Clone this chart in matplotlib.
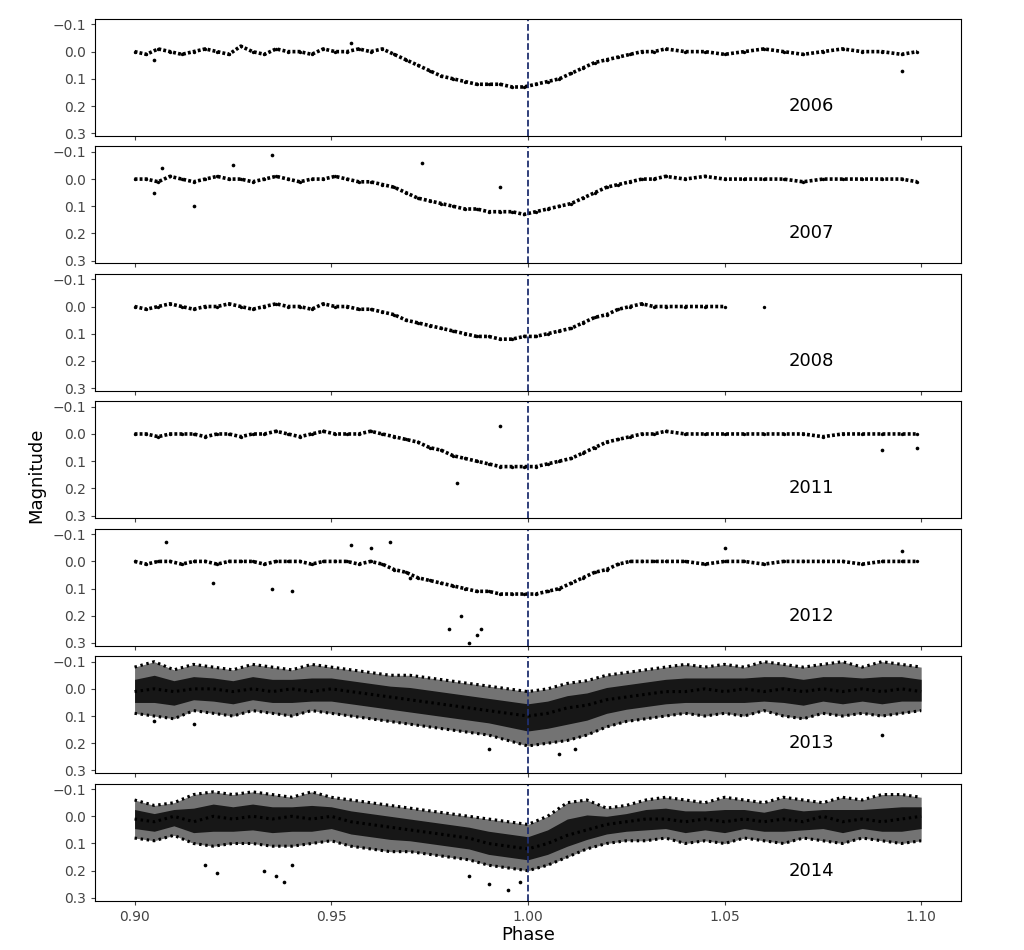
import numpy as np
import matplotlib

matplotlib.use("Agg")
import matplotlib.pyplot as plt

YEARS = ["2006", "2007", "2008", "2011", "2012", "2013", "2014"]

# sparse years: phase / magnitude
P_BASE = [0.900, 0.903, 0.906, 0.909, 0.912, 0.915, 0.918, 0.921, 0.924, 0.927,
          0.930, 0.933, 0.936, 0.939, 0.942, 0.945, 0.948, 0.951, 0.954, 0.957,
          0.960, 0.963, 0.966, 0.969, 0.972, 0.975, 0.978, 0.981, 0.984, 0.987,
          0.990, 0.993, 0.996, 0.999, 1.002, 1.005, 1.008, 1.011, 1.014, 1.017,
          1.020, 1.023, 1.026, 1.029, 1.032, 1.035, 1.040, 1.045, 1.050, 1.055,
          1.060, 1.065, 1.070, 1.075, 1.080, 1.085, 1.090, 1.095, 1.099]
M06 = [0.00, 0.01, -0.01, 0.00, 0.01, 0.00, -0.01, 0.00, 0.01, -0.02,
       0.00, 0.01, -0.01, 0.00, 0.00, 0.01, -0.01, 0.00, 0.00, -0.01,
       0.00, -0.01, 0.01, 0.03, 0.05, 0.07, 0.09, 0.10, 0.11, 0.12,
       0.12, 0.12, 0.13, 0.13, 0.12, 0.11, 0.10, 0.08, 0.06, 0.04,
       0.03, 0.02, 0.01, 0.00, 0.00, -0.01, 0.00, 0.00, 0.01, 0.00,
       -0.01, 0.00, 0.01, 0.00, -0.01, 0.00, 0.00, 0.01, 0.00]
M07 = [0.00, 0.00, 0.01, -0.01, 0.00, 0.01, 0.00, -0.01, 0.00, 0.00,
       0.01, 0.00, -0.01, 0.00, 0.01, 0.00, 0.00, -0.01, 0.00, 0.01,
       0.01, 0.02, 0.03, 0.05, 0.07, 0.08, 0.09, 0.10, 0.11, 0.11,
       0.12, 0.12, 0.12, 0.13, 0.12, 0.11, 0.10, 0.09, 0.07, 0.05,
       0.03, 0.02, 0.01, 0.00, 0.00, -0.01, 0.00, -0.01, 0.00, 0.00,
       0.00, 0.00, 0.01, 0.00, 0.00, 0.00, 0.00, 0.00, 0.01]
M08 = [0.00, 0.01, 0.00, -0.01, 0.00, 0.01, 0.00, 0.00, -0.01, 0.00,
       0.01, 0.00, -0.01, 0.00, 0.00, 0.01, -0.01, 0.00, 0.00, 0.01,
       0.01, 0.02, 0.03, 0.05, 0.06, 0.07, 0.08, 0.09, 0.10, 0.11,
       0.11, 0.12, 0.12, 0.11, 0.11, 0.10, 0.09, 0.08, 0.06, 0.04,
       0.03, 0.01, 0.00, -0.01, 0.00, 0.00, 0.00, 0.00, 0.00, np.nan,
       0.00, np.nan, np.nan, np.nan, np.nan, np.nan, np.nan, np.nan, np.nan]
M11 = [0.00, 0.00, 0.01, 0.00, 0.00, 0.00, 0.01, 0.00, 0.00, 0.01,
       0.00, 0.00, -0.01, 0.00, 0.01, 0.00, -0.01, 0.00, 0.00, 0.00,
       -0.01, 0.00, 0.01, 0.02, 0.03, 0.05, 0.06, 0.08, 0.09, 0.10,
       0.11, 0.12, 0.12, 0.12, 0.12, 0.11, 0.10, 0.09, 0.07, 0.05,
       0.03, 0.02, 0.01, 0.00, 0.00, -0.01, 0.00, 0.00, 0.00, 0.00,
       0.00, 0.00, 0.00, 0.01, 0.00, 0.00, 0.00, 0.00, 0.00]
M12 = [0.00, 0.01, 0.00, 0.00, 0.01, 0.00, 0.00, 0.01, 0.00, 0.00,
       0.00, 0.01, 0.00, 0.00, 0.00, 0.01, 0.00, 0.00, 0.00, 0.01,
       0.00, 0.01, 0.03, 0.04, 0.06, 0.07, 0.08, 0.09, 0.10, 0.11,
       0.11, 0.12, 0.12, 0.12, 0.12, 0.11, 0.10, 0.08, 0.06, 0.04,
       0.03, 0.01, 0.00, 0.00, 0.00, 0.00, 0.00, 0.01, 0.00, 0.00,
       0.01, 0.00, 0.00, 0.00, 0.00, 0.01, 0.00, 0.00, 0.00]

# outliers per year (phase, magnitude)
OUT_P = {"2006": [0.905, 0.955, 1.095],
         "2007": [0.905, 0.907, 0.915, 0.925, 0.935, 0.973, 0.993],
         "2008": [],
         "2011": [0.982, 0.993, 1.090, 1.099],
         "2012": [0.908, 0.920, 0.935, 0.940, 0.955, 0.960, 0.965, 0.970,
                  0.980, 0.983, 0.985, 0.987, 0.988, 1.050, 1.095],
         "2013": [0.905, 0.915, 0.990, 1.008, 1.012, 1.090],
         "2014": [0.918, 0.921, 0.933, 0.936, 0.938, 0.940, 0.985, 0.990,
                  0.995, 0.998]}
OUT_M = {"2006": [0.03, -0.03, 0.07],
         "2007": [0.05, -0.04, 0.10, -0.05, -0.09, -0.06, 0.03],
         "2008": [],
         "2011": [0.18, -0.03, 0.06, 0.05],
         "2012": [-0.07, 0.08, 0.10, 0.11, -0.06, -0.05, -0.07, 0.06,
                  0.25, 0.20, 0.30, 0.27, 0.25, -0.05, -0.04],
         "2013": [0.12, 0.13, 0.22, 0.24, 0.22, 0.17],
         "2014": [0.18, 0.21, 0.20, 0.22, 0.24, 0.18, 0.22, 0.25, 0.27, 0.24]}

# dense years: centre and upper/lower envelope at shared phases
P_DENSE = [0.900, 0.905, 0.910, 0.915, 0.920, 0.925, 0.930, 0.935, 0.940, 0.945,
           0.950, 0.955, 0.960, 0.965, 0.970, 0.975, 0.980, 0.985, 0.990, 0.995,
           1.000, 1.005, 1.010, 1.015, 1.020, 1.025, 1.030, 1.035, 1.040, 1.045,
           1.050, 1.055, 1.060, 1.065, 1.070, 1.075, 1.080, 1.085, 1.090, 1.095, 1.100]
M13_MID = [0.01, 0.00, 0.01, 0.00, 0.00, 0.01, 0.00, 0.01, 0.00, 0.01,
           0.00, 0.01, 0.02, 0.03, 0.04, 0.05, 0.06, 0.07, 0.08, 0.09,
           0.10, 0.09, 0.07, 0.06, 0.04, 0.03, 0.02, 0.01, 0.01, 0.00,
           0.01, 0.00, 0.01, 0.00, 0.01, 0.00, 0.01, 0.00, 0.01, 0.00, 0.01]
M13_HI = [-0.08, -0.10, -0.07, -0.09, -0.08, -0.07, -0.09, -0.08, -0.07, -0.09,
          -0.08, -0.07, -0.06, -0.05, -0.05, -0.04, -0.03, -0.02, -0.01, 0.00,
          0.01, 0.00, -0.02, -0.03, -0.05, -0.06, -0.07, -0.08, -0.09, -0.08,
          -0.09, -0.08, -0.10, -0.09, -0.08, -0.09, -0.10, -0.08, -0.10, -0.09, -0.08]
M13_LO = [0.09, 0.10, 0.11, 0.08, 0.09, 0.10, 0.08, 0.09, 0.10, 0.08,
          0.09, 0.10, 0.11, 0.12, 0.13, 0.14, 0.15, 0.16, 0.17, 0.19,
          0.21, 0.20, 0.19, 0.17, 0.14, 0.12, 0.11, 0.10, 0.09, 0.10,
          0.09, 0.10, 0.08, 0.10, 0.11, 0.09, 0.10, 0.09, 0.10, 0.09, 0.08]
M14_MID = [0.01, 0.02, 0.00, 0.02, 0.00, 0.01, 0.00, 0.01, 0.00, 0.01,
           0.00, 0.02, 0.03, 0.04, 0.05, 0.06, 0.07, 0.08, 0.10, 0.11,
           0.12, 0.10, 0.07, 0.05, 0.03, 0.02, 0.01, 0.01, 0.02, 0.01,
           0.02, 0.01, 0.02, 0.01, 0.02, 0.00, 0.02, 0.01, 0.02, 0.01, 0.00]
M14_HI = [-0.06, -0.04, -0.05, -0.08, -0.09, -0.08, -0.09, -0.08, -0.07, -0.09,
          -0.07, -0.06, -0.05, -0.04, -0.03, -0.02, -0.01, 0.00, 0.01, 0.02,
          0.03, 0.00, -0.05, -0.06, -0.03, -0.04, -0.06, -0.07, -0.06, -0.05,
          -0.07, -0.06, -0.05, -0.07, -0.06, -0.05, -0.07, -0.06, -0.08, -0.08, -0.07]
M14_LO = [0.08, 0.09, 0.07, 0.10, 0.11, 0.10, 0.10, 0.11, 0.11, 0.10,
          0.09, 0.11, 0.12, 0.13, 0.13, 0.14, 0.15, 0.16, 0.18, 0.19,
          0.20, 0.18, 0.15, 0.12, 0.10, 0.09, 0.09, 0.08, 0.10, 0.09,
          0.10, 0.08, 0.09, 0.10, 0.08, 0.09, 0.10, 0.08, 0.09, 0.10, 0.09]

SPARSE = {"2006": M06, "2007": M07, "2008": M08, "2011": M11, "2012": M12}
DENSE = {"2013": (M13_HI, M13_MID, M13_LO), "2014": (M14_HI, M14_MID, M14_LO)}

fig, axes = plt.subplots(len(YEARS), 1, figsize=(10.24, 9.5), sharex=True)
fig.subplots_adjust(left=0.093, right=0.938, top=0.98, bottom=0.052, hspace=0.09)

for ax, yr in zip(axes, YEARS):
    if yr in SPARSE:
        # dense run of points drawn as a dotted trace
        ax.plot(P_BASE, SPARSE[yr], ls=(0, (0.8, 0.6)), lw=2.6, color="black")
        ax.scatter(P_BASE, SPARSE[yr], s=6, color="black", lw=0)
    else:
        hi, mid, lo = DENSE[yr]
        ax.fill_between(P_DENSE, hi, lo, color="black", alpha=0.55, lw=0)
        ax.fill_between(P_DENSE, np.add(hi, mid) / 2, np.add(lo, mid) / 2,
                        color="black", alpha=0.8, lw=0)
        for m in DENSE[yr]:
            ax.plot(P_DENSE, m, ls=(0, (0.8, 1.2)), lw=2.2, color="black")
    ax.scatter(OUT_P[yr], OUT_M[yr], s=7, color="black", lw=0)
    ax.axvline(1.0, color="#1f2f6f", ls="--", lw=1.3)
    ax.set_xlim(0.89, 1.11)
    ax.set_ylim(0.31, -0.12)
    ax.set_yticks([-0.1, 0.0, 0.1, 0.2, 0.3])
    ax.set_yticklabels(["\u22120.1", "0.0", "0.1", "0.2", "0.3"])
    ax.tick_params(labelsize=10, colors="#444444", length=3)
    ax.text(1.072, 0.2, yr, fontsize=13, ha="center", va="center")

axes[-1].set_xticks([0.90, 0.95, 1.00, 1.05, 1.10])
axes[-1].set_xticklabels(["0.90", "0.95", "1.00", "1.05", "1.10"])
axes[-1].set_xlabel("Phase", fontsize=13, labelpad=2)
fig.text(0.035, 0.5, "Magnitude", rotation=90, fontsize=13, va="center", ha="center")

fig.savefig("out.png", dpi=100)
